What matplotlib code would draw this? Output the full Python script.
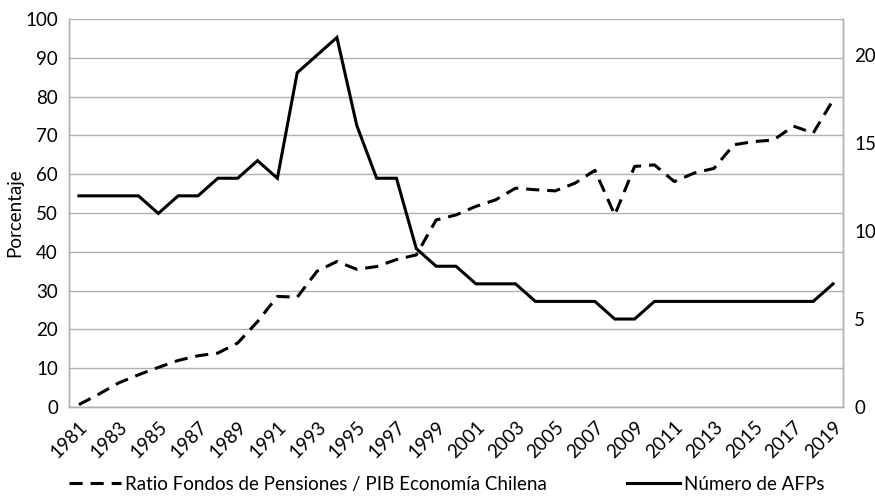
import matplotlib
matplotlib.use("Agg")
import matplotlib.pyplot as plt
from matplotlib.lines import Line2D

plt.rcParams['font.family'] = ['Lato', 'DejaVu Sans']

years = list(range(1981, 2020))

# Ratio fondos de pensiones / PIB (%)
ratio_pib = [0.6, 3.3, 6.2, 8.3, 10.2, 12.0, 13.2, 13.9, 16.5, 22.0,
             28.5, 28.3, 35.0, 37.5, 35.5, 36.2, 38.0, 39.2, 48.2, 49.5,
             51.7, 53.4, 56.4, 56.0, 55.7, 57.7, 61.0, 49.5, 62.0, 62.4,
             58.1, 60.3, 61.5, 67.6, 68.4, 68.8, 72.4, 70.6, 79.1]

# Numero de AFPs
num_afps = [12, 12, 12, 12, 11, 12, 12, 13, 13, 14,
            13, 19, 20, 21, 16, 13, 13, 9, 8, 8,
            7, 7, 7, 6, 6, 6, 6, 5, 5, 6,
            6, 6, 6, 6, 6, 6, 6, 6, 7]

left_ticks = list(range(0, 101, 10))
right_ticks = [0, 5, 10, 15, 20]
xtick_years = years[::2]

grid_col = "#b0b0b0"
fs = 13.5
dash = (4.3, 2.6)

fig = plt.figure(figsize=(8.75, 4.96), dpi=100)
ax = fig.add_axes([69 / 875, 89 / 496, (843 - 69) / 875, (407 - 19) / 496])
ax2 = ax.twinx()

ax.plot(years, ratio_pib, color="black", lw=2.2, dashes=dash,
        solid_capstyle="butt")
ax2.plot(years, num_afps, color="black", lw=2.2, solid_joinstyle="miter")

ax.set_xlim(1980.5, 2019.5)
ax.set_ylim(0, 100)
ax2.set_ylim(0, 22.05)

ax.set_yticks(left_ticks)
ax2.set_yticks(right_ticks)
ax.set_xticks(xtick_years)
ax.set_xticklabels([str(y) for y in xtick_years], rotation=45, ha="right",
                   rotation_mode="anchor")

ax.grid(axis="y", color=grid_col, lw=1)
ax.set_axisbelow(True)

for a in (ax, ax2):
    a.tick_params(length=0, labelsize=fs, colors="black")
    for s in a.spines.values():
        s.set_color(grid_col)
        s.set_linewidth(1)
    a.spines["top"].set_visible(False)
ax.tick_params(axis="y", pad=8)
ax2.tick_params(axis="y", pad=8)
ax.tick_params(axis="x", pad=8)

ax.set_ylabel("Porcentaje", fontsize=fs, labelpad=1)

handles = [
    Line2D([], [], color="black", lw=2.2, dashes=dash),
    Line2D([], [], color="black", lw=2.2),
]
labels = ["Ratio Fondos de Pensiones / PIB Economía Chilena", "Número de AFPs"]
fig.legend(handles, labels, loc="lower center", bbox_to_anchor=(0.51, -0.027),
           ncol=2, frameon=False, fontsize=fs, handlelength=2.8,
           handletextpad=0.2, columnspacing=4.3)

fig.savefig("out.png", dpi=100)
